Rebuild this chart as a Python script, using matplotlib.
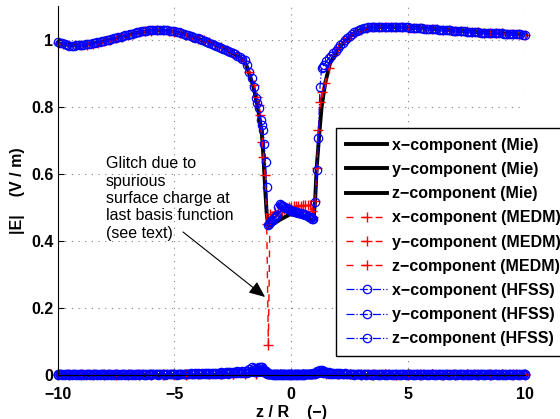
import matplotlib
matplotlib.use('Agg')
import matplotlib.pyplot as plt

plt.rcParams['font.family'] = ['Liberation Sans', 'DejaVu Sans']
plt.rcParams['font.weight'] = 'bold'

# --- Mie (analytic) ---
z_mie = [-10, -9.5, -9, -8.5, -8, -7.5, -7, -6.5, -6, -5.5, -5, -4.5, -4, -3.5, -3, -2.5,
         -2, -1.9, -1.62, -1.41, -1.26, -1.19, -1.12, -1.05, -0.98, -0.5, -0.05, 0.5, 0.95,
         1.02, 1.09, 1.2, 1.3, 1.45, 1.66, 2.09, 2.5, 3, 3.5, 4, 4.5, 5, 5.5, 6, 6.5, 7,
         7.5, 8, 8.5, 9, 9.5, 10]
ex_mie = [0.990, 0.984, 0.983, 0.988, 0.995, 1.004, 1.013, 1.022, 1.027, 1.028, 1.024, 1.015,
          1.003, 0.992, 0.977, 0.960, 0.936, 0.920, 0.860, 0.790, 0.720, 0.650, 0.560, 0.480,
          0.440, 0.462, 0.479, 0.472, 0.462, 0.520, 0.620, 0.720, 0.800, 0.870, 0.930, 0.980,
          1.010, 1.031, 1.037, 1.038, 1.037, 1.036, 1.035, 1.032, 1.030, 1.027, 1.025, 1.022,
          1.020, 1.019, 1.017, 1.015]
z_mie_t = [-10, 10]
ey_mie = [0.0, 0.0]
ez_mie = [0.0, 0.0]

# --- MEDM ---
z_medm = [-10.0, -9.75, -9.5, -9.25, -9.0, -8.75, -8.5, -8.25, -8.0, -7.75, -7.5, -7.25, -7.0,
          -6.75, -6.5, -6.25, -6.0, -5.75, -5.5, -5.25, -5.0, -4.75, -4.5, -4.25, -4.0, -3.75,
          -3.5, -3.25, -3.0, -2.75, -2.5, -2.25, -2.0,
          -1.8, -1.6, -1.47, -1.4, -1.33, -1.26, -1.19, -1.12, -1.05, -0.98, -0.91, -0.84,
          -0.69, -0.55, -0.41, -0.3, -0.2, -0.1, 0.0, 0.1, 0.2, 0.3, 0.4, 0.5, 0.6, 0.7, 0.8,
          0.88, 0.95, 1.02, 1.09, 1.16, 1.23, 1.33, 1.45, 1.6, 1.8,
          2.0, 2.25, 2.5, 2.75, 3.0, 3.25, 3.5, 3.75, 4.0, 4.25, 4.5, 4.75, 5.0, 5.25, 5.5,
          5.75, 6.0, 6.25, 6.5, 6.75, 7.0, 7.25, 7.5, 7.75, 8.0, 8.25, 8.5, 8.75, 9.0, 9.25,
          9.5, 9.75, 10.0]
ex_medm = [0.990, 0.987, 0.984, 0.983, 0.983, 0.985, 0.988, 0.991, 0.995, 0.999, 1.004, 1.009,
           1.013, 1.018, 1.022, 1.025, 1.027, 1.028, 1.028, 1.027, 1.024, 1.020, 1.015, 1.009,
           1.003, 0.998, 0.992, 0.985, 0.977, 0.969, 0.960, 0.949, 0.936,
           0.905, 0.865, 0.830, 0.805, 0.776, 0.696, 0.650, 0.596, 0.450, 0.090, 0.480, 0.475,
           0.487, 0.488, 0.490, 0.495, 0.498, 0.500, 0.502, 0.503, 0.504, 0.505, 0.505, 0.506,
           0.507, 0.507, 0.507, 0.490, 0.470, 0.520, 0.617, 0.730, 0.815, 0.845, 0.870, 0.915,
           0.955,
           0.975, 0.996, 1.010, 1.022, 1.030, 1.035, 1.037, 1.038, 1.038, 1.038, 1.037, 1.037,
           1.036, 1.035, 1.035, 1.033, 1.032, 1.031, 1.030, 1.028, 1.027, 1.026, 1.025, 1.023,
           1.022, 1.021, 1.020, 1.019, 1.019, 1.018, 1.017, 1.016, 1.015]
z_medm_t = [-10.0, -9.5, -9.0, -8.5, -8.0, -7.5, -7.0, -6.5, -6.0, -5.5, -5.0, -4.5, -4.0, -3.5,
            -3.0, -2.5, -2.0, -1.5, -1.0, -0.5, 0.0, 0.5, 1.0, 1.5, 2.0, 2.5, 3.0, 3.5, 4.0,
            4.5, 5.0, 5.5, 6.0, 6.5, 7.0, 7.5, 8.0, 8.5, 9.0, 9.5, 10.0]
ey_medm = [0.001, 0.001, 0.000, 0.001, 0.001, 0.000, 0.001, 0.001, 0.001, 0.000, 0.001, 0.001,
           0.001, 0.002, 0.002, 0.003, 0.004, 0.006, 0.005, 0.002, 0.001, 0.002, 0.004, 0.005,
           0.003, 0.002, 0.001, 0.001, 0.001, 0.000, 0.001, 0.001, 0.001, 0.000, 0.001, 0.001,
           0.001, 0.000, 0.001, 0.001, 0.001]
ez_medm = [0.000, 0.000, 0.001, 0.000, 0.000, 0.001, 0.000, 0.000, 0.000, 0.001, 0.000, 0.000,
           0.001, 0.001, 0.001, 0.002, 0.002, 0.003, 0.003, 0.001, 0.000, 0.001, 0.002, 0.003,
           0.002, 0.001, 0.000, 0.000, 0.001, 0.000, 0.000, 0.000, 0.001, 0.000, 0.000, 0.000,
           0.000, 0.001, 0.000, 0.000, 0.000]

# --- HFSS (dense sampling) ---
z_hfss = [
    -10.0, -9.9, -9.8, -9.7, -9.6, -9.5, -9.4, -9.3, -9.2, -9.1,
    -9.0, -8.9, -8.8, -8.7, -8.6, -8.5, -8.4, -8.3, -8.2, -8.1,
    -8.0, -7.9, -7.8, -7.7, -7.6, -7.5, -7.4, -7.3, -7.2, -7.1,
    -7.0, -6.9, -6.8, -6.7, -6.6, -6.5, -6.4, -6.3, -6.2, -6.1,
    -6.0, -5.9, -5.8, -5.7, -5.6, -5.5, -5.4, -5.3, -5.2, -5.1,
    -5.0, -4.9, -4.8, -4.7, -4.6, -4.5, -4.4, -4.3, -4.2, -4.1,
    -4.0, -3.9, -3.8, -3.7, -3.6, -3.5, -3.4, -3.3, -3.2, -3.1,
    -3.0, -2.9, -2.8, -2.7, -2.6, -2.5, -2.4, -2.3, -2.2, -2.1,
    -2.0,
    -1.9, -1.8, -1.7, -1.6, -1.5, -1.45, -1.4, -1.3, -1.25, -1.2, -1.15, -1.1, -1.05, -1.0,
    -0.95, -0.9, -0.85, -0.8, -0.75, -0.7, -0.65, -0.6, -0.55, -0.5,
    -0.45, -0.4, -0.35, -0.3, -0.25, -0.2, -0.15, -0.1, -0.05, 0.0,
    0.05, 0.1, 0.15, 0.2, 0.25, 0.3, 0.35, 0.4, 0.45, 0.5,
    0.55, 0.6, 0.65, 0.7, 0.75, 0.8, 0.85, 0.9, 0.95,
    1.02, 1.09, 1.16, 1.23, 1.3, 1.35, 1.4, 1.5, 1.6, 1.7, 1.8, 1.9,
    2.0, 2.1, 2.2, 2.3, 2.4, 2.5, 2.6, 2.7, 2.8, 2.9,
    3.0, 3.1, 3.2, 3.3, 3.4, 3.5, 3.6, 3.7, 3.8, 3.9,
    4.0, 4.1, 4.2, 4.3, 4.4, 4.5, 4.6, 4.7, 4.8, 4.9,
    5.0, 5.1, 5.2, 5.3, 5.4, 5.5, 5.6, 5.7, 5.8, 5.9,
    6.0, 6.1, 6.2, 6.3, 6.4, 6.5, 6.6, 6.7, 6.8, 6.9,
    7.0, 7.1, 7.2, 7.3, 7.4, 7.5, 7.6, 7.7, 7.8, 7.9,
    8.0, 8.1, 8.2, 8.3, 8.4, 8.5, 8.6, 8.7, 8.8, 8.9,
    9.0, 9.1, 9.2, 9.3, 9.4, 9.5, 9.6, 9.7, 9.8, 9.9,
    10.0]
ex_hfss = [
    0.993, 0.991, 0.989, 0.986, 0.984, 0.982, 0.981, 0.982, 0.983, 0.983,
    0.984, 0.985, 0.986, 0.987, 0.988, 0.989, 0.990, 0.992, 0.994, 0.995,
    0.996, 0.998, 1.000, 1.002, 1.004, 1.006, 1.008, 1.009, 1.011, 1.013,
    1.015, 1.016, 1.018, 1.020, 1.022, 1.023, 1.025, 1.026, 1.027, 1.028,
    1.029, 1.030, 1.030, 1.030, 1.030, 1.030, 1.029, 1.028, 1.027, 1.026,
    1.025, 1.023, 1.022, 1.020, 1.018, 1.015, 1.013, 1.010, 1.008, 1.006,
    1.004, 1.001, 0.999, 0.996, 0.994, 0.991, 0.988, 0.985, 0.982, 0.979,
    0.976, 0.973, 0.970, 0.966, 0.963, 0.960, 0.956, 0.952, 0.948, 0.943,
    0.938,
    0.925, 0.905, 0.885, 0.860, 0.825, 0.810, 0.795, 0.760, 0.745, 0.730, 0.690, 0.636, 0.560, 0.447,
    0.450, 0.455, 0.459, 0.463, 0.467, 0.470, 0.474, 0.478, 0.500, 0.510,
    0.508, 0.505, 0.503, 0.500, 0.499, 0.497, 0.496, 0.494, 0.492, 0.490,
    0.489, 0.488, 0.487, 0.486, 0.485, 0.484, 0.483, 0.482, 0.481, 0.480,
    0.479, 0.477, 0.476, 0.474, 0.472, 0.470, 0.468, 0.466, 0.464,
    0.516, 0.610, 0.706, 0.860, 0.915, 0.920, 0.925, 0.935, 0.944, 0.952, 0.960, 0.967,
    0.975, 0.983, 0.991, 0.998, 1.005, 1.011, 1.017, 1.022, 1.026, 1.030,
    1.033, 1.035, 1.036, 1.037, 1.038, 1.038, 1.039, 1.039, 1.039, 1.039,
    1.038, 1.039, 1.039, 1.038, 1.038, 1.038, 1.038, 1.037, 1.037, 1.037,
    1.037, 1.036, 1.036, 1.036, 1.035, 1.035, 1.034, 1.033, 1.033, 1.032,
    1.032, 1.031, 1.031, 1.030, 1.030, 1.029, 1.029, 1.028, 1.028, 1.027,
    1.027, 1.026, 1.026, 1.025, 1.025, 1.024, 1.024, 1.023, 1.023, 1.022,
    1.022, 1.021, 1.021, 1.021, 1.020, 1.020, 1.020, 1.019, 1.019, 1.019,
    1.019, 1.018, 1.018, 1.018, 1.018, 1.017, 1.017, 1.016, 1.016, 1.015,
    1.015]
ey_hfss = [
    0.002, 0.001, 0.002, 0.001, 0.002, 0.001, 0.002, 0.002, 0.001, 0.002,
    0.001, 0.002, 0.001, 0.002, 0.002, 0.001, 0.002, 0.001, 0.002, 0.002,
    0.001, 0.002, 0.002, 0.001, 0.002, 0.001, 0.002, 0.002, 0.001, 0.002,
    0.002, 0.001, 0.002, 0.002, 0.001, 0.002, 0.002, 0.001, 0.002, 0.002,
    0.001, 0.002, 0.002, 0.003, 0.002, 0.002, 0.003, 0.002, 0.003, 0.002,
    0.003, 0.002, 0.003, 0.003, 0.002, 0.003, 0.003, 0.004, 0.003, 0.004,
    0.004, 0.003, 0.004, 0.005, 0.004, 0.005, 0.005, 0.006, 0.005, 0.006,
    0.007, 0.006, 0.007, 0.008, 0.007, 0.008, 0.009, 0.010, 0.009, 0.011,
    0.012,
    0.012, 0.018, 0.022, 0.020, 0.018, 0.020, 0.022, 0.024, 0.022, 0.018, 0.014, 0.010, 0.006, 0.004,
    0.003, 0.002, 0.002, 0.002, 0.001, 0.001, 0.002, 0.001, 0.001, 0.001,
    0.001, 0.001, 0.001, 0.001, 0.001, 0.001, 0.001, 0.001, 0.001, 0.001,
    0.001, 0.001, 0.001, 0.001, 0.001, 0.001, 0.001, 0.001, 0.001, 0.001,
    0.001, 0.001, 0.002, 0.002, 0.002, 0.002, 0.003, 0.003, 0.004,
    0.006, 0.010, 0.012, 0.014, 0.013, 0.012, 0.011, 0.009, 0.007, 0.006, 0.005, 0.004,
    0.004, 0.004, 0.003, 0.004, 0.003, 0.003, 0.002, 0.003, 0.002, 0.003,
    0.002, 0.002, 0.003, 0.002, 0.002, 0.001, 0.002, 0.002, 0.001, 0.002,
    0.002, 0.001, 0.002, 0.002, 0.001, 0.002, 0.001, 0.002, 0.002, 0.001,
    0.002, 0.002, 0.001, 0.002, 0.001, 0.002, 0.002, 0.001, 0.002, 0.002,
    0.001, 0.002, 0.002, 0.001, 0.002, 0.002, 0.001, 0.002, 0.001, 0.002,
    0.002, 0.001, 0.002, 0.002, 0.001, 0.002, 0.002, 0.001, 0.002, 0.001,
    0.002, 0.002, 0.001, 0.002, 0.002, 0.001, 0.002, 0.001, 0.002, 0.002,
    0.001, 0.002, 0.002, 0.001, 0.002, 0.002, 0.001, 0.002, 0.002, 0.001,
    0.002]
ez_hfss = [
    0.000, 0.001, 0.000, 0.000, 0.001, 0.000, 0.000, 0.001, 0.000, 0.000,
    0.001, 0.000, 0.000, 0.001, 0.000, 0.000, 0.001, 0.000, 0.000, 0.001,
    0.000, 0.000, 0.001, 0.000, 0.000, 0.001, 0.000, 0.000, 0.001, 0.000,
    0.000, 0.001, 0.000, 0.000, 0.001, 0.000, 0.001, 0.000, 0.000, 0.001,
    0.000, 0.001, 0.001, 0.000, 0.001, 0.001, 0.000, 0.001, 0.001, 0.001,
    0.001, 0.000, 0.001, 0.001, 0.001, 0.001, 0.001, 0.002, 0.001, 0.002,
    0.002, 0.001, 0.002, 0.002, 0.002, 0.002, 0.003, 0.002, 0.003, 0.003,
    0.003, 0.003, 0.004, 0.003, 0.004, 0.004, 0.005, 0.004, 0.005, 0.005,
    0.006,
    0.006, 0.008, 0.010, 0.009, 0.008, 0.009, 0.010, 0.012, 0.010, 0.009, 0.007, 0.005, 0.003, 0.002,
    0.001, 0.001, 0.001, 0.000, 0.001, 0.000, 0.000, 0.001, 0.000, 0.000,
    0.001, 0.000, 0.000, 0.001, 0.000, 0.000, 0.001, 0.000, 0.000, 0.001,
    0.000, 0.000, 0.001, 0.000, 0.000, 0.001, 0.000, 0.000, 0.001, 0.000,
    0.000, 0.001, 0.001, 0.001, 0.001, 0.001, 0.001, 0.002, 0.002,
    0.003, 0.005, 0.006, 0.007, 0.007, 0.006, 0.006, 0.004, 0.003, 0.003, 0.002, 0.002,
    0.002, 0.001, 0.002, 0.001, 0.001, 0.001, 0.001, 0.000, 0.001, 0.001,
    0.000, 0.001, 0.000, 0.001, 0.000, 0.000, 0.001, 0.000, 0.000, 0.001,
    0.000, 0.000, 0.001, 0.000, 0.000, 0.001, 0.000, 0.000, 0.001, 0.000,
    0.000, 0.001, 0.000, 0.000, 0.001, 0.000, 0.000, 0.001, 0.000, 0.000,
    0.001, 0.000, 0.000, 0.001, 0.000, 0.000, 0.001, 0.000, 0.000, 0.001,
    0.000, 0.000, 0.001, 0.000, 0.000, 0.001, 0.000, 0.000, 0.001, 0.000,
    0.000, 0.001, 0.000, 0.000, 0.001, 0.000, 0.000, 0.001, 0.000, 0.000,
    0.001, 0.000, 0.000, 0.001, 0.000, 0.000, 0.001, 0.000, 0.000, 0.001,
    0.000]

glitch_text = 'Glitch due to\nspurious\nsurface charge at\nlast basis function\n(see text)'
glitch_xy = (-1.12, 0.232)
glitch_from = (-4.63, 0.426)
glitch_text_xy = (-7.94, 0.652)

fig = plt.figure(figsize=(5.6, 4.19), dpi=100)
ax = fig.add_axes([0.1027, 0.1057, 0.8348, 0.8795])

mie_kw = dict(color='black', lw=2.8, ls='-', clip_on=False)
medm_kw = dict(color='red', lw=1.0, ls=(0, (5, 5.5)), marker='+', ms=7, mew=1.0, clip_on=False)
hfss_kw = dict(color='blue', lw=0.9, ls='-.', marker='o', ms=6, mew=0.9, mfc='none', clip_on=False)

h = []
h += ax.plot(z_mie, ex_mie, label='x−component (Mie)', **mie_kw)
h += ax.plot(z_mie_t, ey_mie, label='y−component (Mie)', **mie_kw)
h += ax.plot(z_mie_t, ez_mie, label='z−component (Mie)', **mie_kw)
h += ax.plot(z_medm, ex_medm, label='x−component (MEDM)', **medm_kw)
h += ax.plot(z_medm_t, ey_medm, label='y−component (MEDM)', **medm_kw)
h += ax.plot(z_medm_t, ez_medm, label='z−component (MEDM)', **medm_kw)
h += ax.plot(z_hfss, ex_hfss, label='x−component (HFSS)', **hfss_kw)
h += ax.plot(z_hfss, ey_hfss, label='y−component (HFSS)', **hfss_kw)
h += ax.plot(z_hfss, ez_hfss, label='z−component (HFSS)', **hfss_kw)

ax.set_xlim(-10, 10)
ax.set_ylim(0, 1.1)
ax.set_xticks([-10, -5, 0, 5, 10])
ax.set_yticks([0, 0.2, 0.4, 0.6, 0.8, 1.0])
ax.set_yticklabels(['0', '0.2', '0.4', '0.6', '0.8', '1'])
ax.grid(True, color='#808080', ls=(0, (1, 5)), lw=0.8)
ax.set_axisbelow(True)
for s in ['top', 'right']:
    ax.spines[s].set_visible(False)
ax.spines['left'].set_linewidth(0.8)
ax.spines['bottom'].set_linewidth(0.8)
ax.tick_params(direction='in', length=4, width=0.8, labelsize=11.5)
ax.tick_params(axis='x', pad=9)
ax.tick_params(axis='y', pad=3)

ax.set_xlabel('z / R    (−)', fontsize=11.5, fontweight='bold', labelpad=2)
ax.set_ylabel('|E|    (V / m)', fontsize=11.5, fontweight='bold', labelpad=4)

ax.text(glitch_text_xy[0], glitch_text_xy[1], glitch_text, fontsize=11.5, fontweight='normal',
        ha='left', va='top', linespacing=1.2)
ax.annotate('', xy=glitch_xy, xytext=glitch_from,
            arrowprops=dict(arrowstyle='-|>,head_length=0.7,head_width=0.3', color='black',
                            lw=0.8, mutation_scale=14, shrinkA=0, shrinkB=0))

leg = ax.legend(handles=h, loc='upper left', bbox_to_anchor=(336 / 560, (419 - 128) / 419),
                bbox_transform=fig.transFigure, borderaxespad=0, fontsize=11.5,
                numpoints=1, handlelength=2.6, handletextpad=0.3, labelspacing=0.575,
                borderpad=0.62, fancybox=False, framealpha=1, edgecolor='black')
leg.get_frame().set_linewidth(1.0)

fig.savefig('out.png', dpi=100)
